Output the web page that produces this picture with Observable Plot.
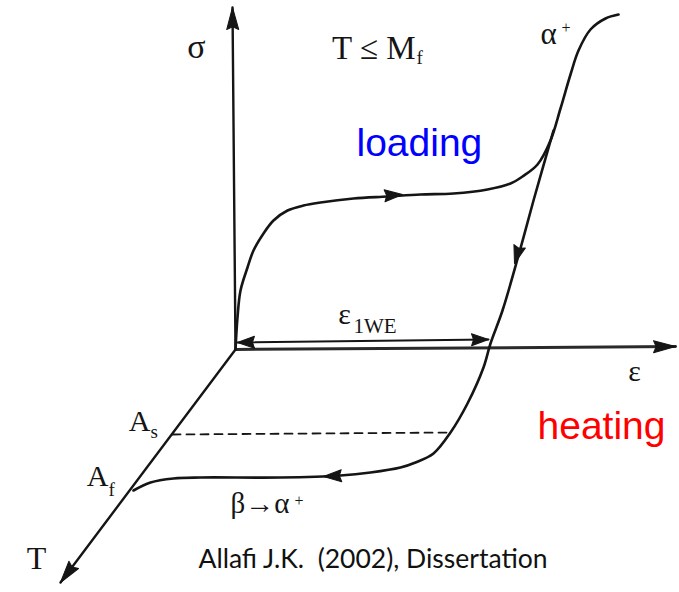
<!DOCTYPE html>
<html><head><meta charset="utf-8">
<script src="https://cdn.jsdelivr.net/npm/d3@7"></script>
<script src="https://cdn.jsdelivr.net/npm/@observablehq/plot@0.6"></script>
<style>
html,body{margin:0;padding:0;background:#fff;}
#chart svg{display:block;}
</style></head><body><div id="chart"></div>
<script>
// Schematic one-way shape-memory effect: strain ε (horizontal), stress σ (vertical), T drawn obliquely.
// Loading path (σ rises, plateau, then α+ detwinning)
const loadingStrain = [0, 0.2, 0.5, 1.2, 1.8, 2.8, 3.8, 5.2, 6.8, 8.5, 11.8, 15.2, 18.5, 21.8, 25.2, 27.5, 28.7, 30.2, 31.5, 32.5, 33.5, 34.3, 35.5, 37.0, 38.3];
const loadingStress = [0, 3.2, 5.9, 8.2, 9.9, 11.6, 12.9, 13.9, 14.4, 14.7, 15.1, 15.3, 15.5, 15.6, 16.0, 16.6, 17.3, 18.5, 20.9, 24.1, 27.5, 29.9, 32.0, 33.1, 33.5];
// Unloading, then heating path back to A_f (β→α+)
const returnStrain = [31.8, 29.8, 28.3, 26.7, 25.5, 24.8, 23.2, 21.5, 19.8, 18.0, 16.5, 13.5, 10.5, 4.5, -3.5, -6.2, -8.5, -10.2];
const returnStress = [21.9, 14.9, 9.4, 3.9, 0.6, -1.8, -5.4, -8.3, -10.4, -11.3, -11.8, -12.3, -12.6, -12.8, -12.8, -12.9, -13.3, -14.1];
// Axes (start, end)
const sigmaAxis = [[0, 0], [-0.3, 34.2]];
const strainAxis = [[0, 0], [44.0, 0.3]];
const tempAxis = [[0, 0], [-17.5, -23.3]];
// ε_1WE span
const oneWaySpan = [[0.2, 0.7], [25.3, 1.0]];
// A_s level (dashed)
const asLevel = [[-6.3, -8.5], [21.5, -8.3]];
// Flow direction arrows on the path: tip and the point behind it
const flowArrows = [
  {tip: [16.7, 15.5], from: [14.0, 15.3]},
  {tip: [27.9, 8.6], from: [28.5, 10.6]},
  {tip: [8.8, -12.7], from: [11.0, -12.6]}
];
// Labels
const serifLabels = [
  {text: "σ", e: -3.9, s: 29.2, size: 34, anchor: "middle"},
  {text: "T ≤ M", e: 18.0, s: 29.1, size: 33, anchor: "end"},
  {text: "f", e: 18.1, s: 28.6, size: 19, anchor: "start"},
  {text: "α", e: 31.3, s: 30.6, size: 31, anchor: "middle"},
  {text: "+", e: 32.6, s: 31.7, size: 16, anchor: "start"},
  {text: "ε", e: 39.9, s: -3.1, size: 30, anchor: "middle"},
  {text: "ε", e: 10.9, s: 2.6, size: 30, anchor: "middle"},
  {text: "1WE", e: 11.8, s: 1.7, size: 21, anchor: "start"},
  {text: "A", e: -8.5, s: -8.1, size: 30, anchor: "end"},
  {text: "s", e: -8.5, s: -8.8, size: 19, anchor: "start"},
  {text: "A", e: -12.7, s: -13.6, size: 30, anchor: "end"},
  {text: "f", e: -12.7, s: -14.6, size: 19, anchor: "start"},
  {text: "β→α", e: -0.5, s: -16.3, size: 29, anchor: "start"},
  {text: "+", e: 5.9, s: -15.6, size: 16, anchor: "start"},
  {text: "T", e: -19.9, s: -21.9, size: 32, anchor: "middle"}
];
const loadingLabel = {text: "loading", e: 12.1, s: 19.4};
const heatingLabel = {text: "heating", e: 30.2, s: -8.9};
const caption = {text: "Allafi J.K.\u00a0 (2002), Dissertation", e: -3.7, s: -21.8};

const serif = "'Liberation Serif','Times New Roman',serif";
const sans = "'Liberation Sans',Arial,sans-serif";
const ink = "#151515";

const pairs = (xs, ys) => xs.map((x, i) => ({x, y: ys[i]}));
const seg = (p) => p.map(([x, y]) => ({x, y}));
const ang = (a, b) => Math.atan2(b[0] - a[0], b[1] - a[1]) * 180 / Math.PI;

const dart = {
  draw(ctx, l, r) {
    ctx.moveTo(0, -l);
    ctx.lineTo(r, 0);
    ctx.lineTo(0, -l * 0.12);
    ctx.lineTo(-r, 0);
    ctx.closePath();
  }
};

const axisHeads = [sigmaAxis, strainAxis, tempAxis].map(([a, b]) => ({x: b[0], y: b[1], r: ang(a, b)}));
const spanHeads = [
  {x: oneWaySpan[1][0], y: oneWaySpan[1][1], r: ang(oneWaySpan[0], oneWaySpan[1])},
  {x: oneWaySpan[0][0], y: oneWaySpan[0][1], r: ang(oneWaySpan[1], oneWaySpan[0])}
];
const flowHeads = flowArrows.map(d => ({x: d.tip[0], y: d.tip[1], r: ang(d.from, d.tip)}));

function txt(d, font, fill, size, anchor, extra = {}) {
  return Plot.text([d], {x: "e", y: "s", text: "text", fontSize: size, textAnchor: anchor, lineAnchor: "bottom", fontFamily: font, fill, ...extra});
}

const plot = Plot.plot({
  width: 679, height: 592, margin: 0,
  x: {domain: [-23.5, 44.4], axis: null},
  y: {domain: [-24.3, 34.9], axis: null},
  style: {background: "#fff", overflow: "visible"},
  marks: [
    Plot.line(seg(asLevel), {x: "x", y: "y", stroke: ink, strokeWidth: 1.8, strokeDasharray: "8,6"}),
    Plot.line(seg(sigmaAxis), {x: "x", y: "y", stroke: ink, strokeWidth: 2.4}),
    Plot.line(seg(strainAxis), {x: "x", y: "y", stroke: "#2a2a2a", strokeWidth: 3}),
    Plot.line(seg(tempAxis), {x: "x", y: "y", stroke: ink, strokeWidth: 2.4}),
    Plot.line(seg(oneWaySpan), {x: "x", y: "y", stroke: ink, strokeWidth: 2}),
    Plot.line(pairs(loadingStrain, loadingStress), {x: "x", y: "y", stroke: ink, strokeWidth: 2.6, curve: "catmull-rom"}),
    Plot.line(pairs(returnStrain, returnStress), {x: "x", y: "y", stroke: ink, strokeWidth: 2.6, curve: "catmull-rom"}),
    Plot.vector(axisHeads, {x: "x", y: "y", rotate: "r", length: 22, r: 6, anchor: "end", shape: dart, fill: ink, stroke: ink, strokeWidth: 1}),
    Plot.vector(spanHeads, {x: "x", y: "y", rotate: "r", length: 17, r: 6, anchor: "end", shape: dart, fill: ink, stroke: ink, strokeWidth: 1}),
    Plot.vector(flowHeads, {x: "x", y: "y", rotate: "r", length: 18, r: 6, anchor: "end", shape: dart, fill: ink, stroke: ink, strokeWidth: 1}),
    ...serifLabels.map(d => txt(d, serif, ink, d.size, d.anchor)),
    txt(loadingLabel, sans, "#0000ff", 39, "start"),
    txt(heatingLabel, sans, "#ff0000", 39, "start"),
    txt(caption, "Lato,'Open Sans',sans-serif", "#111", 26.5, "start")
  ]
});
document.getElementById("chart").appendChild(plot);
</script>
</body></html>
